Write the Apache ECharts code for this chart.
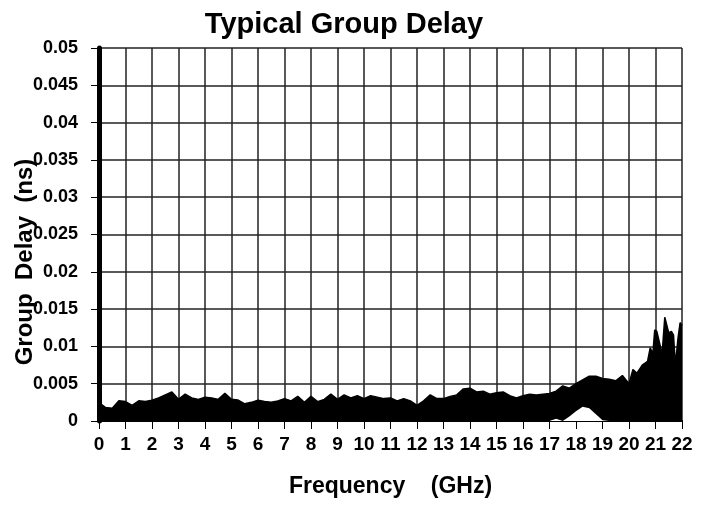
<!DOCTYPE html>
<html>
<head>
<meta charset="utf-8">
<script src="https://cdn.jsdelivr.net/npm/echarts@6/dist/echarts.min.js"></script>
<style>
  html, body { margin: 0; padding: 0; background: #fff; }
  #chart { width: 710px; height: 506px; }
</style>
</head>
<body>
<div id="chart"></div>
<script>
// frequency points (GHz)
const freq = [
  0, 0.1, 0.25, 0.5, 0.75, 1, 1.25, 1.5, 1.75, 2, 2.25, 2.5, 2.75, 3, 3.25, 3.5, 3.75,
  4, 4.25, 4.5, 4.75, 5, 5.25, 5.5, 5.75, 6, 6.25, 6.5, 6.75, 7, 7.25, 7.5, 7.75,
  8, 8.25, 8.5, 8.75, 9, 9.25, 9.5, 9.75, 10, 10.25, 10.5, 10.75, 11, 11.25, 11.5, 11.75,
  12, 12.25, 12.5, 12.75, 13, 13.25, 13.5, 13.75, 14, 14.25, 14.5, 14.75, 15, 15.25, 15.5, 15.75,
  16, 16.25, 16.5, 16.75, 17, 17.25, 17.5, 17.75, 18, 18.25, 18.5, 18.75, 19, 19.25, 19.5, 19.75,
  20, 20.15, 20.3, 20.5, 20.7, 20.8, 20.9, 20.97, 21.05, 21.15, 21.25, 21.35, 21.42, 21.5,
  21.6, 21.68, 21.75, 21.85, 21.93, 22
];
// top edge of the black band (ns)
const upper = [
  0.0021, 0.0022, 0.0018, 0.0017, 0.0027, 0.0026, 0.0021, 0.0027, 0.0026, 0.0028, 0.0031, 0.0035, 0.0039, 0.0029, 0.0036, 0.0031, 0.0029,
  0.0032, 0.0031, 0.0029, 0.0037, 0.0029, 0.0028, 0.0023, 0.0025, 0.0028, 0.0026, 0.0025, 0.0027, 0.0030, 0.0027, 0.0033, 0.0025,
  0.0033, 0.0026, 0.0029, 0.0036, 0.0029, 0.0035, 0.0031, 0.0034, 0.0030, 0.0034, 0.0032, 0.0030, 0.0031, 0.0027, 0.0030, 0.0027,
  0.0021, 0.0027, 0.0035, 0.0030, 0.0030, 0.0033, 0.0035, 0.0043, 0.0044, 0.0039, 0.0040, 0.0036, 0.0038, 0.0039, 0.0034, 0.0031,
  0.0034, 0.0036, 0.0035, 0.0036, 0.0037, 0.0040, 0.0047, 0.0044, 0.0050, 0.0055, 0.0060, 0.0060, 0.0057, 0.0056, 0.0054, 0.0061,
  0.0050, 0.0069, 0.0064, 0.0075, 0.0080, 0.0098, 0.0090, 0.0122, 0.0120, 0.0105, 0.0090, 0.0139, 0.0140, 0.0118,
  0.0120, 0.0115, 0.0075, 0.0111, 0.0132, 0.0128
];
// bottom edge of the band (the gap near 18 GHz)
const lower = [
  0, 0, 0, 0, 0, 0, 0, 0, 0, 0, 0, 0, 0, 0, 0, 0, 0,
  0, 0, 0, 0, 0, 0, 0, 0, 0, 0, 0, 0, 0, 0, 0, 0,
  0, 0, 0, 0, 0, 0, 0, 0, 0, 0, 0, 0, 0, 0, 0, 0,
  0, 0, 0, 0, 0, 0, 0, 0, 0, 0, 0, 0, 0, 0, 0, 0,
  0, 0, 0, 0, 0, 0.0003, 0, 0.0006, 0.0013, 0.0019, 0.0017, 0.0009, 0.0001, 0, 0, 0,
  0, 0, 0, 0, 0, 0, 0, 0, 0, 0, 0, 0, 0, 0,
  0, 0, 0, 0, 0, 0
];
const xTicks = { min: 0, max: 22, step: 1 };
const yTicks = { min: 0, max: 0.05, step: 0.005 };

const font = "'Liberation Sans', Arial, sans-serif";

const chart = echarts.init(document.getElementById('chart'));
const option = {
  animation: false,
  backgroundColor: '#fff',
  title: {
    text: 'Typical Group Delay',
    left: 339,
    top: 5,
    textAlign: 'center',
    textStyle: { fontFamily: font, fontWeight: 'bold', fontSize: 29, color: '#000' }
  },
  graphic: [{
    type: 'text',
    x: 25,
    y: 262,
    rotation: Math.PI / 2,
    style: {
      text: 'Group  Delay  (ns)',
      font: "bold 24px 'Liberation Sans', Arial, sans-serif",
      fill: '#000',
      align: 'center',
      verticalAlign: 'middle'
    }
  }],
  grid: { left: 99, right: 28, top: 48, bottom: 85 },
  xAxis: {
    type: 'value',
    min: xTicks.min,
    max: xTicks.max,
    interval: xTicks.step,
    name: 'Frequency    (GHz)',
    nameLocation: 'middle',
    nameGap: 54,
    nameTextStyle: { fontFamily: font, fontWeight: 'bold', fontSize: 23, color: '#000' },
    axisLine: { lineStyle: { color: '#000', width: 2 } },
    axisTick: { length: 8, lineStyle: { color: '#000', width: 1 } },
    axisLabel: { margin: 14, fontFamily: font, fontWeight: 'bold', fontSize: 19, color: '#000' },
    splitLine: { show: true, lineStyle: { color: '#222', width: 1.5 } }
  },
  yAxis: {
    type: 'value',
    min: yTicks.min,
    max: yTicks.max,
    interval: yTicks.step,
    axisLine: { show: true, lineStyle: { color: '#000', width: 5 } },
    axisTick: { show: true, length: 8, lineStyle: { color: '#000', width: 1 } },
    axisLabel: { margin: 21, fontFamily: font, fontWeight: 'bold', fontSize: 18, color: '#000' },
    splitLine: { show: true, lineStyle: { color: '#222', width: 1.5 } }
  },
  series: [
    {
      name: 'upper',
      type: 'line',
      data: freq.map((f, i) => [f, upper[i]]),
      symbol: 'none',
      lineStyle: { color: '#000', width: 1.5 },
      areaStyle: { color: '#000', opacity: 1, origin: 'start' },
      z: 3
    },
    {
      name: 'lower',
      type: 'line',
      data: freq.map((f, i) => [f, lower[i]]),
      symbol: 'none',
      lineStyle: { width: 0, opacity: 0 },
      areaStyle: { color: '#fff', opacity: 1, origin: 'start' },
      z: 4
    }
  ]
};
chart.setOption(option);
</script>
</body>
</html>
